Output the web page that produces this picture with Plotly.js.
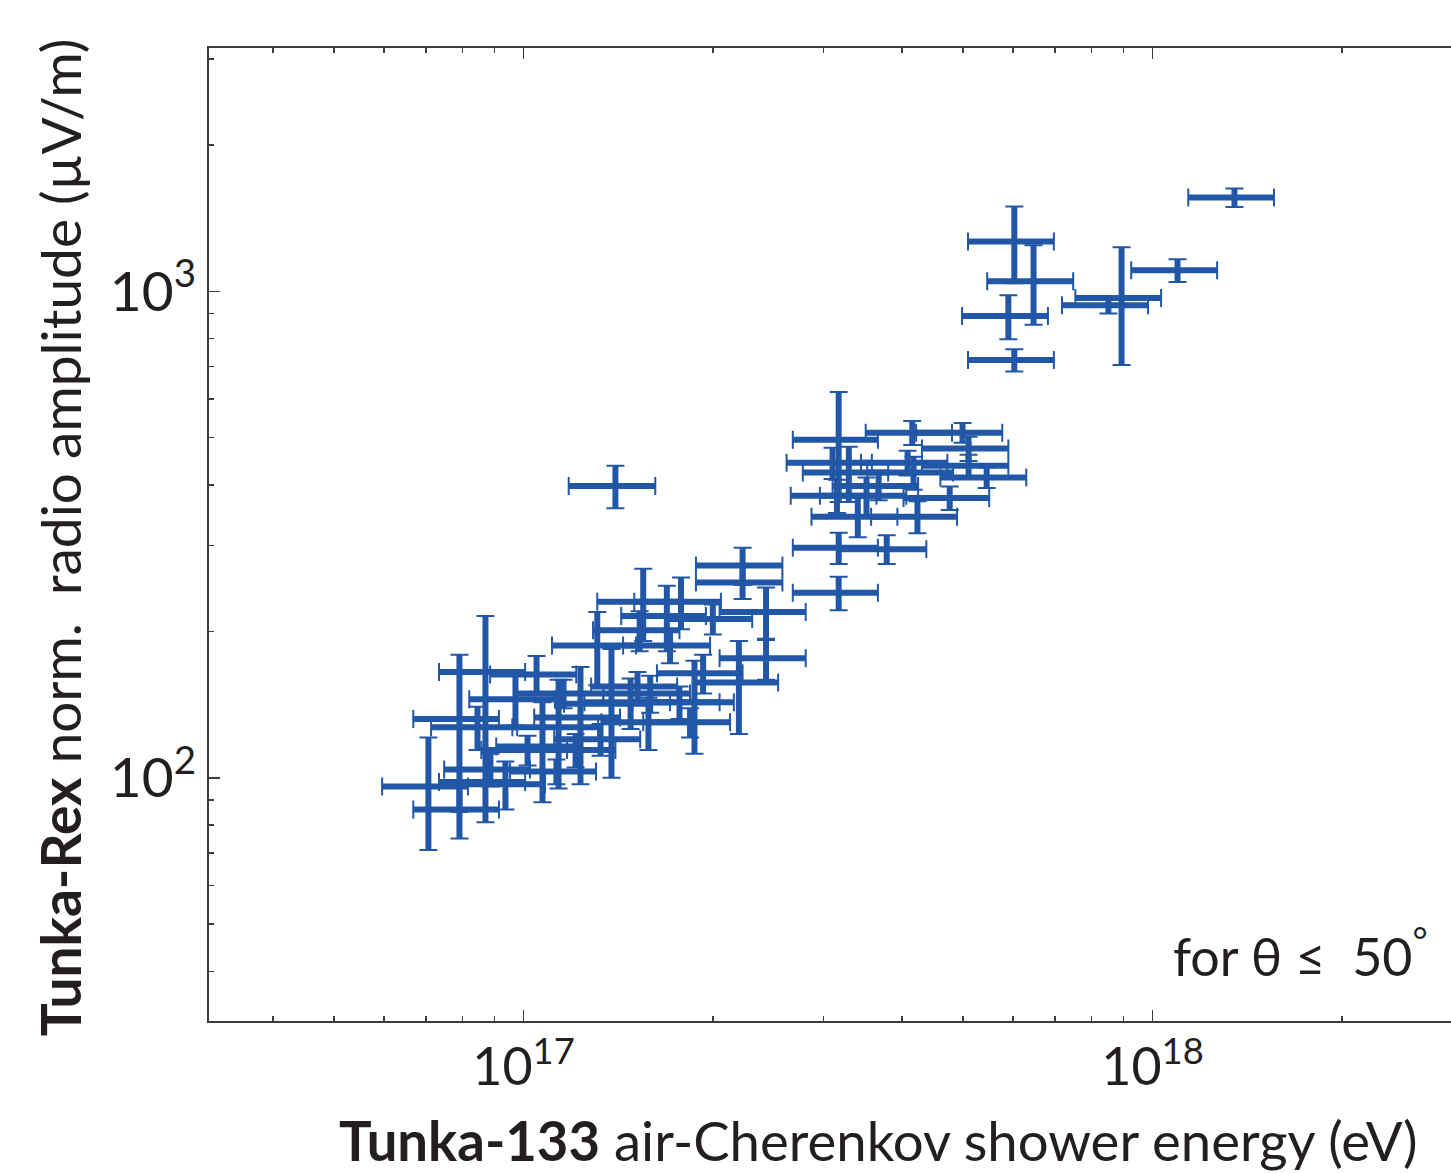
<!DOCTYPE html>
<html>
<head>
<meta charset="utf-8">
<script src="https://cdn.plot.ly/plotly-3.0.1.min.js"></script>
<style>
  html, body { margin: 0; padding: 0; background: #fff; overflow: hidden; }
  #chart { width: 1470px; height: 1173px; }
</style>
</head>
<body>
<div id="chart"></div>
<script>
// Shower energy (eV) and its uncertainty
const energy = [
  13.50e17, 10.96e17, 6.03e17, 6.47e17, 5.90e17, 6.03e17, 8.93e17, 8.51e17, 1.40e17,
  3.17e17, 4.15e17, 4.99e17, 5.10e17, 3.10e17, 3.29e17, 4.08e17, 5.10e17, 5.45e17, 4.17e17,
  3.67e17, 3.15e17, 3.51e17, 4.76e17, 3.40e17, 4.23e17, 3.17e17, 3.78e17, 3.17e17,
  2.23e17, 2.23e17, 1.55e17, 1.78e17, 2.43e17, 1.69e17, 2.00e17, 1.53e17, 1.31e17, 1.71e17,
  2.43e17, 1.93e17, 2.20e17, 1.87e17, 1.58e17, 1.84e17, 1.59e17, 1.21e17, 1.38e17, 1.48e17,
  0.706e17, 0.791e17, 0.791e17, 0.870e17, 0.870e17, 0.845e17, 0.936e17, 0.971e17, 1.049e17,
  1.072e17, 1.137e17, 1.232e17, 1.158e17, 1.015e17, 1.518e17, 1.128e17,
  1.77e17, 1.326e17, 0.886e17
];
const energyErr = [
  2.10e17, 1.71e17, 0.94e17, 1.01e17, 0.92e17, 0.94e17, 1.39e17, 1.33e17, 0.22e17,
  0.49e17, 0.65e17, 0.78e17, 0.80e17, 0.48e17, 0.51e17, 0.64e17, 0.80e17, 0.85e17, 0.65e17,
  0.57e17, 0.49e17, 0.55e17, 0.74e17, 0.53e17, 0.66e17, 0.49e17, 0.59e17, 0.49e17,
  0.35e17, 0.35e17, 0.24e17, 0.28e17, 0.38e17, 0.26e17, 0.31e17, 0.24e17, 0.20e17, 0.27e17,
  0.38e17, 0.30e17, 0.34e17, 0.29e17, 0.25e17, 0.29e17, 0.25e17, 0.19e17, 0.22e17, 0.23e17,
  0.110e17, 0.123e17, 0.123e17, 0.136e17, 0.136e17, 0.132e17, 0.146e17, 0.151e17, 0.164e17,
  0.167e17, 0.177e17, 0.192e17, 0.181e17, 0.158e17, 0.237e17, 0.176e17,
  0.28e17, 0.207e17, 0.138e17
];
// Normalized radio amplitude (µV/m) and its uncertainty
const amplitude = [
  1558, 1104, 1266, 1048, 889, 722, 968, 936, 398,
  495, 512, 512, 475, 444, 424, 444, 438, 414, 424,
  398, 380, 380, 376, 344, 344, 297, 295, 240,
  273, 252, 230, 230, 219, 215, 212, 201, 187, 187,
  176, 164, 157, 143, 130, 130, 149, 114, 142, 143,
  96, 132, 86, 165, 98, 127, 97, 145, 163,
  116, 127, 133, 149, 114, 154, 103,
  143, 120, 104
];
const amplitudeErr = [
  68, 59, 228, 195, 92, 38, 263, 36, 40,
  126, 29, 24, 27, 33, 55, 26, 23, 20, 33,
  26, 30, 34, 21, 32, 26, 22, 20, 19,
  24, 19, 39, 28, 27, 33, 15, 19, 32, 15,
  17, 15, 34, 31, 16, 9, 13, 9, 42, 17,
  25, 47, 11, 50, 17, 13, 11, 17, 15,
  27, 32, 36, 10, 8, 11, 6,
  11, 9, 8
];
const xTickVals = [1e17, 1e18];
const xTickText = ['10<sup>17</sup>', '10<sup>18</sup>'];
const yTickVals = [100, 1000];
const yTickText = ['10<sup>2</sup>', '10<sup>3</sup>'];
const xMinorVals = [4e16, 5e16, 6e16, 7e16, 8e16, 9e16, 2e17, 3e17, 4e17, 5e17, 6e17, 7e17, 8e17, 9e17, 2e18, 3e18];
const yMinorVals = [40, 50, 60, 70, 80, 90, 200, 300, 400, 500, 600, 700, 800, 900, 2000, 3000];

const blue = '#2157A6';
const ink = '#231F20';
const axisCol = '#3c3c3c';
const font = 'Lato, "Open Sans", sans-serif';

const caps = {
  x: energy, y: amplitude, type: 'scatter', mode: 'markers',
  marker: {size: 1, color: blue},
  error_x: {type: 'data', array: energyErr, visible: true, color: blue, thickness: 2, width: 9},
  error_y: {type: 'data', array: amplitudeErr, visible: true, color: blue, thickness: 2, width: 9},
  hoverinfo: 'skip', showlegend: false
};
const bars = {
  x: energy, y: amplitude, type: 'scatter', mode: 'markers',
  marker: {size: 1, color: blue},
  error_x: {type: 'data', array: energyErr, visible: true, color: blue, thickness: 6, width: 0},
  error_y: {type: 'data', array: amplitudeErr, visible: true, color: blue, thickness: 6, width: 0},
  showlegend: false
};

const layout = {
  width: 1470, height: 1173,
  margin: {l: 209, r: 0, t: 48, b: 152},
  paper_bgcolor: '#fff', plot_bgcolor: '#fff',
  font: {family: font, color: ink},
  showlegend: false,
  xaxis: {
    type: 'log', range: [16.5, 18.5048],
    tickmode: 'array', tickvals: xTickVals, ticktext: xTickText,
    ticks: 'inside', ticklen: 11, tickwidth: 1.5, tickcolor: axisCol,
    showline: true, linecolor: axisCol, linewidth: 2, mirror: 'ticks',
    showgrid: false, zeroline: false,
    tickfont: {family: font, size: 52, color: ink},
    minor: {tickmode: 'array', tickvals: xMinorVals, ticks: 'inside', ticklen: 5, tickwidth: 1.5, tickcolor: axisCol, showgrid: false}
  },
  yaxis: {
    type: 'log', range: [1.5, 3.5],
    tickmode: 'array', tickvals: yTickVals, ticktext: yTickText,
    ticks: 'inside', ticklen: 11, tickwidth: 1.5, tickcolor: axisCol,
    showline: true, linecolor: axisCol, linewidth: 2, mirror: 'ticks',
    showgrid: false, zeroline: false,
    tickfont: {family: font, size: 55, color: ink},
    minor: {tickmode: 'array', tickvals: yMinorVals, ticks: 'inside', ticklen: 5, tickwidth: 1.5, tickcolor: axisCol, showgrid: false}
  },
  annotations: [
    {
      text: '<b>Tunka-133</b> air-Cherenkov shower energy (eV)',
      xref: 'paper', yref: 'paper', x: 0.9603, y: -0.122,
      xanchor: 'right', yanchor: 'middle', showarrow: false,
      font: {family: font, size: 54.5, color: ink}
    },
    {
      text: '<b>Tunka-Rex</b> norm.  radio amplitude (µV/m)',
      xref: 'paper', yref: 'paper', x: -0.1182, y: 0.497,
      xanchor: 'center', yanchor: 'middle', textangle: -90, showarrow: false,
      font: {family: font, size: 55, color: ink}
    },
    {
      text: 'for θ ≤ &nbsp;50<sup>°</sup>',
      xref: 'paper', yref: 'paper', x: 0.9683, y: 0.07,
      xanchor: 'right', yanchor: 'middle', showarrow: false,
      font: {family: font, size: 52, color: ink}
    }
  ]
};

Plotly.newPlot('chart', [caps, bars], layout, {displayModeBar: false, staticPlot: true});
</script>
</body>
</html>
